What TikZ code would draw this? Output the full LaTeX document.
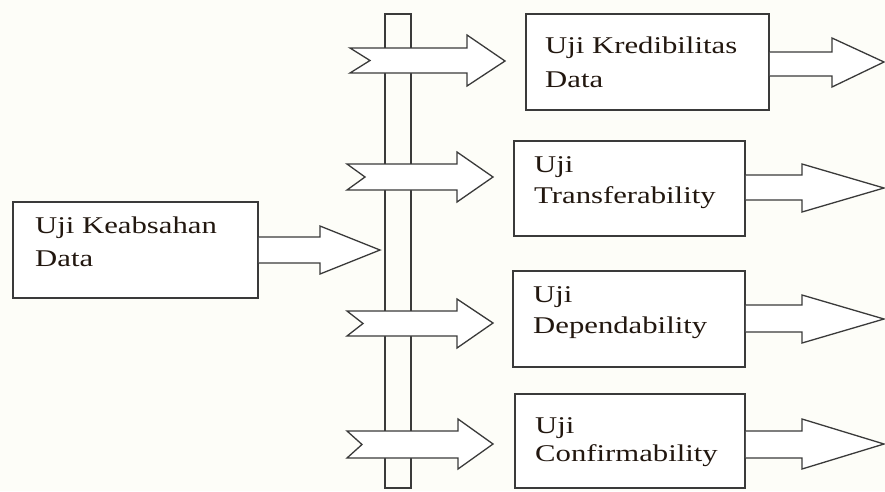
\documentclass[tikz,border=0pt]{standalone}
\usepackage{fontspec}
\setmainfont{Liberation Serif}[FakeStretch=1.28]
\definecolor{bg}{HTML}{FDFDF8}
\definecolor{ln}{HTML}{3A3A3A}
\definecolor{tx}{HTML}{22170F}
\begin{document}
\begin{tikzpicture}[x=1pt,y=-1pt,
  box/.style={draw=ln,line width=1.6pt,fill=white,inner sep=0pt},
  blk/.style={draw=ln,line width=1.3pt,fill=white,line join=miter},
  bar/.style={draw=ln,line width=1.3pt,fill=none},
  lbl/.style={anchor=base west,inner sep=0pt,text=tx,font=\fontsize{24}{30}\selectfont}]
\fill[bg] (0,0) rectangle (885,491);
\useasboundingbox (0,0) rectangle (885,491);
% vertical bar
\node[bar,minimum width=26,minimum height=474,inner sep=0pt] (barnode) at (398,251) {};
% boxes
\node[box,minimum width=245,minimum height=96] (src) at (135.5,250) {};
\node[box,minimum width=243,minimum height=96] (b1) at (647.5,62) {};
\node[box,minimum width=231,minimum height=95] (b2) at (629.5,188.5) {};
\node[box,minimum width=232,minimum height=96] (b3) at (629,319) {};
\node[box,minimum width=230,minimum height=94] (b4) at (630,441) {};
% source arrow into the bar
\draw[blk] (src.east |- 0,237) -- (320,237) -- (320,226) -- (380,250) -- (320,274) -- (320,263) -- (src.east |- 0,263);
% notched arrows crossing the bar
\draw[blk] (350,48) -- (467,48) -- (467,35) -- (505,61) -- (467,86) -- (467,73) -- (350,73) -- (370,60.5) -- cycle;
\draw[blk] (347,164) -- (457,164) -- (457,152) -- (493,177) -- (457,202) -- (457,190) -- (347,190) -- (365,177) -- cycle;
\draw[blk] (347,311) -- (457,311) -- (457,299) -- (493,323) -- (457,348) -- (457,336) -- (347,336) -- (363,323.5) -- cycle;
\draw[blk] (347,431) -- (458,431) -- (458,419) -- (493,444) -- (458,469) -- (458,458) -- (347,458) -- (362,444.5) -- cycle;
% output arrows
\draw[blk] (b1.east |- 0,52) -- (832,52) -- (832,38) -- (884,62) -- (832,87) -- (832,76) -- (b1.east |- 0,76);
\draw[blk] (b2.east |- 0,175) -- (802,175) -- (802,164) -- (884,188) -- (802,212) -- (802,200) -- (b2.east |- 0,200);
\draw[blk] (b3.east |- 0,305) -- (802,305) -- (802,295) -- (884,319) -- (802,343) -- (802,332) -- (b3.east |- 0,332);
\draw[blk] (b4.east |- 0,431) -- (802,431) -- (802,419) -- (884,444) -- (802,469) -- (802,458) -- (b4.east |- 0,458);
% texts
\node[lbl] (t0a) at (35,233) {Uji Keabsahan};
\node[lbl] (t0b) at (35,266) {Data};
\node[lbl] (t1a) at (545,53) {Uji Kredibilitas};
\node[lbl] (t1b) at (545,87) {Data};
\node[lbl] (t2a) at (534,172) {Uji};
\node[lbl] (t2b) at (534,203) {Transferability};
\node[lbl] (t3a) at (533,302) {Uji};
\node[lbl] (t3b) at (533,333) {Dependability};
\node[lbl] (t4a) at (535,433) {Uji};
\node[lbl] (t4b) at (535,461) {Confirmability};
\end{tikzpicture}
\end{document}
